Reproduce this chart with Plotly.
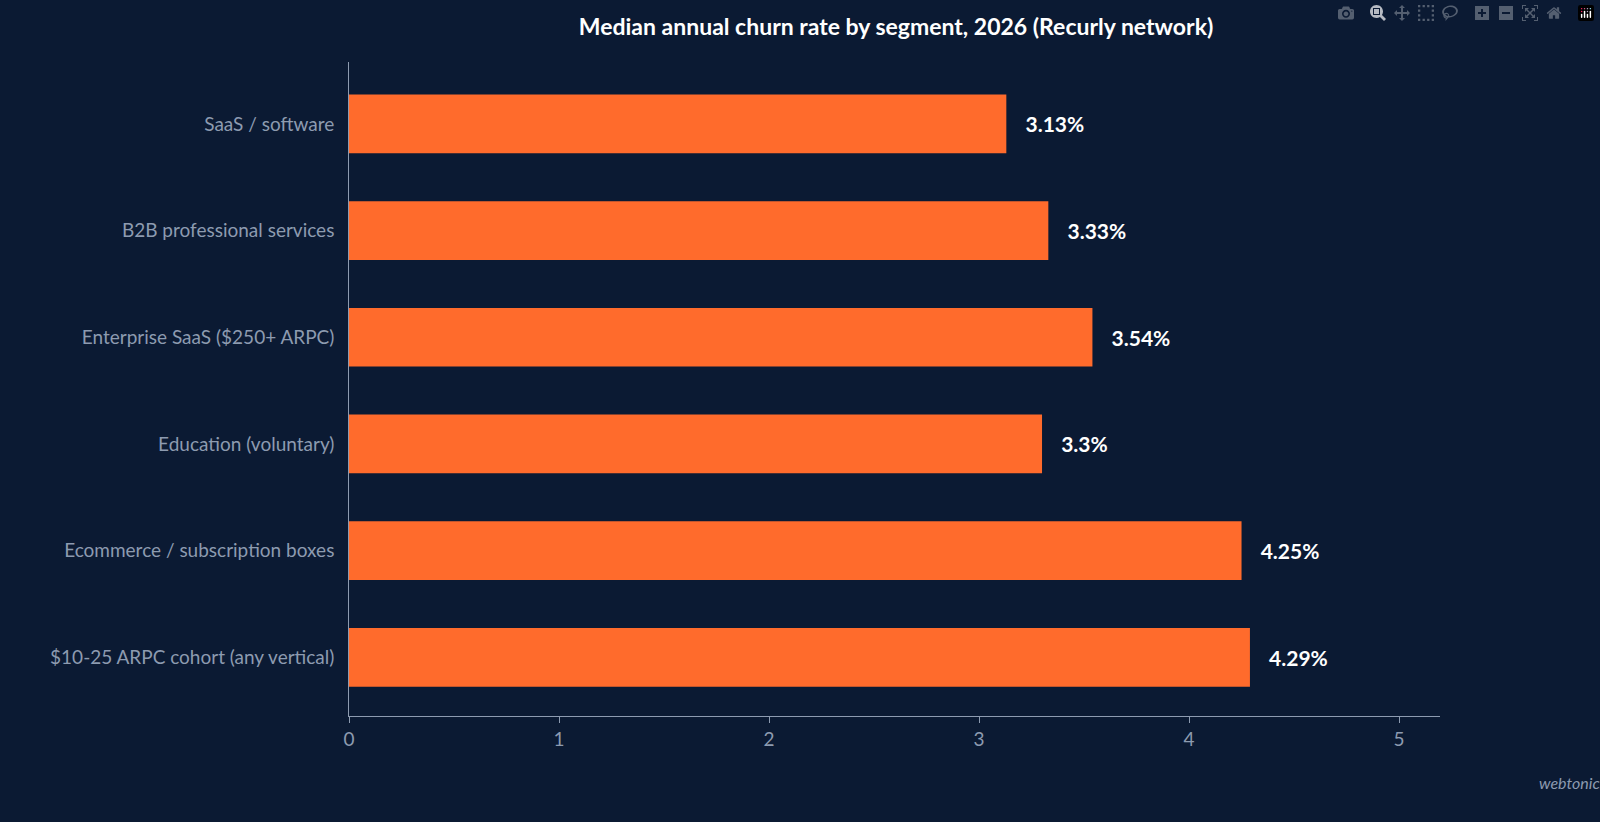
import plotly.graph_objects as go

categories = ["SaaS / software", "B2B professional services", "Enterprise SaaS ($250+ ARPC)",
              "Education (voluntary)", "Ecommerce / subscription boxes", "$10-25 ARPC cohort (any vertical)"]
values = [3.13, 3.33, 3.54, 3.3, 4.25, 4.29]
labels = ["3.13%", "3.33%", "3.54%", "3.3%", "4.25%", "4.29%"]

bg = "#0b1a33"
axis_col = "#8d9bb0"

fig = go.Figure(go.Bar(
    x=values, y=categories, orientation="h", width=0.55,
    marker=dict(color="#ff6b2c", line=dict(width=0)),
    text=labels, textposition="outside", cliponaxis=False,
    textfont=dict(color="white", size=21, family="Lato, sans-serif"),
    texttemplate="   <b>%{text}</b>",
))
fig.update_layout(
    width=1600, height=822,
    paper_bgcolor=bg, plot_bgcolor=bg,
    margin=dict(l=349, r=160, t=62, b=106),
    font=dict(family="Lato, sans-serif", color=axis_col),
    title=dict(text="<b>Median annual churn rate by segment, 2026 (Recurly network)</b>",
               x=0.56, xanchor="center", y=0.967, yanchor="middle",
               font=dict(size=23, color="white")),
    showlegend=False,
    xaxis=dict(range=[0, 5.195], tickvals=[0, 1, 2, 3, 4, 5], showgrid=False, zeroline=False,
               showline=True, linecolor=axis_col, linewidth=1.2, ticks="outside",
               tickcolor=axis_col, ticklen=6, tickfont=dict(size=19, color=axis_col)),
    yaxis=dict(autorange=False, range=[5.55, -0.58], showgrid=False, zeroline=False,
               showline=True, linecolor=axis_col, linewidth=1.2, ticks="",
               ticksuffix="  ", tickfont=dict(size=19, color=axis_col)),
    annotations=[dict(text="<i>webtonic.io</i>", xref="paper", yref="paper", x=1.162, y=-0.102,
                      xanchor="right", yanchor="middle", showarrow=False,
                      font=dict(size=16, color="#8d9bb0"))],
)
fig.write_html("out.html", post_script="document.body.style.margin='0';document.body.style.overflow='hidden';")
